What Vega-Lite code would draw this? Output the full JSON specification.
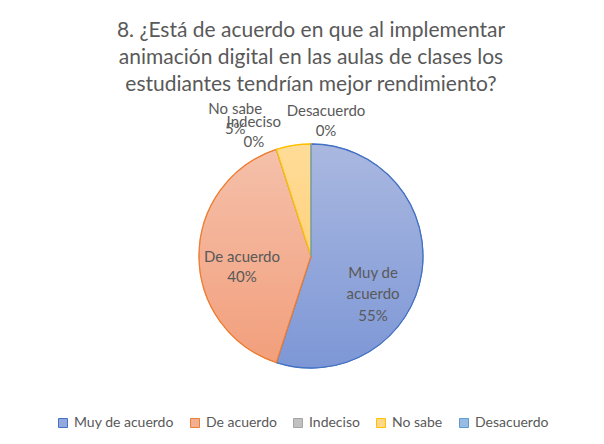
{
  "$schema": "https://vega.github.io/schema/vega-lite/v6.json",
  "width": 224,
  "height": 224,
  "autosize": {"type": "none"},
  "padding": {"left": 199, "top": 144, "right": 181, "bottom": 76},
  "background": "white",
  "config": {"view": {"stroke": null}, "font": "Lato"},
  "title": {
    "text": ["8. ¿Está de acuerdo en que al implementar", "animación digital en las aulas de clases los", "estudiantes tendrían mejor rendimiento?"],
    "font": "Lato",
    "fontSize": 21,
    "fontWeight": "normal",
    "color": "#595959",
    "lineHeight": 27,
    "anchor": "middle",
    "frame": "group",
    "offset": 5
  },
  "data": {
    "values": [
      {"respuesta": "Muy de acuerdo", "porcentaje": 55, "orden": 1, "etiqueta": "Muy de\nacuerdo\n55%"},
      {"respuesta": "De acuerdo", "porcentaje": 40, "orden": 2, "etiqueta": "De acuerdo\n40%"},
      {"respuesta": "Indeciso", "porcentaje": 0, "orden": 3, "etiqueta": "Indeciso\n0%"},
      {"respuesta": "No sabe", "porcentaje": 5, "orden": 4, "etiqueta": "No sabe\n5%"},
      {"respuesta": "Desacuerdo", "porcentaje": 0, "orden": 5, "etiqueta": "Desacuerdo\n0%"}
    ]
  },
  "encoding": {
    "theta": {"field": "porcentaje", "type": "quantitative", "stack": true},
    "order": {"field": "orden", "type": "ordinal"}
  },
  "layer": [
    {
      "mark": {"type": "arc", "strokeWidth": 1},
      "encoding": {
        "color": {
          "field": "respuesta",
          "type": "nominal",
          "scale": {
            "domain": ["Muy de acuerdo", "De acuerdo", "Indeciso", "No sabe", "Desacuerdo"],
            "range": ["#93A8DB", "#F3AF92", "#C1C1C1", "#FFD88B", "#98BAE3"]
          },
          "legend": {
            "orient": "none",
            "legendX": -143,
            "legendY": 272,
            "direction": "horizontal",
            "title": null,
            "symbolType": "square",
            "symbolSize": 81,
            "symbolStrokeWidth": 1,
            "labelFont": "Lato",
            "labelFontSize": 14,
            "labelColor": "#595959",
            "labelOffset": 4,
            "columnPadding": 14
          }
        },
        "stroke": {
          "field": "respuesta",
          "type": "nominal",
          "scale": {
            "domain": ["Muy de acuerdo", "De acuerdo", "Indeciso", "No sabe", "Desacuerdo"],
            "range": ["#4472C4", "#ED7D31", "#A5A5A5", "#FFC000", "#5B9BD5"]
          }
        }
      }
    },
    {
      "mark": {"type": "arc", "strokeWidth": 1.3},
      "encoding": {
        "color": {
          "condition": [
            {"test": "datum.respuesta === 'Muy de acuerdo'", "value": {"gradient": "linear", "x1": 0, "y1": 0, "x2": 0, "y2": 1, "stops": [{"offset": 0, "color": "#AAB8E0"}, {"offset": 1, "color": "#7D97D6"}]}},
            {"test": "datum.respuesta === 'De acuerdo'", "value": {"gradient": "linear", "x1": 0, "y1": 0, "x2": 0, "y2": 1, "stops": [{"offset": 0, "color": "#F5C0AA"}, {"offset": 1, "color": "#F29F7C"}]}},
            {"test": "datum.respuesta === 'No sabe'", "value": {"gradient": "linear", "x1": 0, "y1": 0, "x2": 0, "y2": 1, "stops": [{"offset": 0, "color": "#FFDC98"}, {"offset": 1, "color": "#FFD27F"}]}},
            {"test": "datum.respuesta === 'Indeciso'", "value": "#C1C1C1"}
          ],
          "value": "#98BAE3"
        },
        "stroke": {
          "field": "respuesta",
          "type": "nominal",
          "legend": null
        }
      }
    },
    {
      "mark": {"type": "text", "radius": 75, "dx": -12, "dy": 5, "fontSize": 15, "font": "Lato", "color": "#595959", "lineBreak": "\n", "lineHeight": 21.5},
      "encoding": {"text": {"condition": {"test": "datum.respuesta === 'Muy de acuerdo'", "field": "etiqueta"}, "value": ""}}
    },
    {
      "mark": {"type": "text", "radius": 69, "dx": 0, "dy": 1, "fontSize": 15, "font": "Lato", "color": "#595959", "lineBreak": "\n", "lineHeight": 20},
      "encoding": {"text": {"condition": {"test": "datum.respuesta === 'De acuerdo'", "field": "etiqueta"}, "value": ""}}
    },
    {
      "mark": {"type": "text", "radius": 139, "dx": -54, "dy": -10, "fontSize": 15, "font": "Lato", "color": "#595959", "lineBreak": "\n", "lineHeight": 20},
      "encoding": {"text": {"condition": {"test": "datum.respuesta === 'No sabe'", "field": "etiqueta"}, "value": ""}}
    },
    {
      "mark": {"type": "text", "radius": 130, "dx": -17, "dy": -10, "fontSize": 15, "font": "Lato", "color": "#595959", "lineBreak": "\n", "lineHeight": 20},
      "encoding": {"text": {"condition": {"test": "datum.respuesta === 'Indeciso'", "field": "etiqueta"}, "value": ""}}
    },
    {
      "mark": {"type": "text", "radius": 135, "dx": 15, "dy": -10, "fontSize": 15, "font": "Lato", "color": "#595959", "lineBreak": "\n", "lineHeight": 20},
      "encoding": {"text": {"condition": {"test": "datum.respuesta === 'Desacuerdo'", "field": "etiqueta"}, "value": ""}}
    }
  ]
}
